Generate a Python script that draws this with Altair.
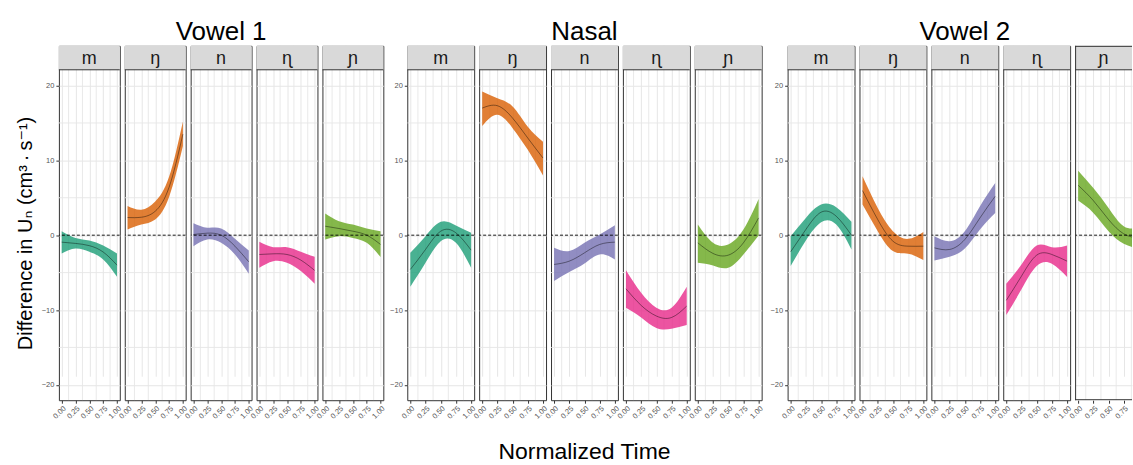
import altair as alt
import pandas as pd

FONT = "Liberation Sans, Arial, DejaVu Sans, sans-serif"

# ---------------- data ----------------
TIME = [0.0, 0.25, 0.5, 0.75, 1.0]
SEGMENTS = ["m", "ŋ", "n", "ɳ", "ɲ"]
COLORS = ["#1B9E77", "#D95F02", "#7570B3", "#E7298A", "#66A61E"]
GROUPS = ["Vowel 1", "Nasal", "Vowel 2"]

MAJOR_X = [0.0, 0.25, 0.5, 0.75, 1.0]
MINOR_X = [0.125, 0.375, 0.625, 0.875]
MAJOR_Y = [-20, -10, 0, 10, 20]
MINOR_Y = [-15, -5, 5, 15]

# Vowel 1 (order: m, ŋ, n, ɳ, ɲ)
vowel1_fit = [
    [-0.93, -1.10, -1.40, -2.25, -4.00],
    [2.36, 2.40, 3.20, 6.40, 13.50],
    [0.09, 0.27, 0.00, -1.47, -3.56],
    [-2.58, -2.49, -2.58, -3.33, -4.71],
    [1.20, 0.89, 0.53, 0.00, -1.24],
]
vowel1_lower = [
    [-2.44, -1.78, -2.22, -3.24, -5.56],
    [0.76, 1.42, 2.10, 5.10, 11.90],
    [-1.47, -0.58, -1.02, -2.58, -5.16],
    [-4.36, -3.47, -3.69, -4.80, -6.49],
    [-0.58, -0.13, -0.36, -1.02, -2.93],
]
vowel1_upper = [
    [0.53, -0.36, -0.71, -1.38, -2.44],
    [3.90, 3.40, 4.50, 7.80, 15.20],
    [1.60, 1.00, 0.90, -0.49, -2.04],
    [-0.89, -1.60, -1.60, -2.22, -2.89],
    [2.90, 1.87, 1.42, 0.89, 0.53],
]

# Nasal
nasal_fit = [
    [-4.58, -1.91, 0.53, 0.31, -2.00],
    [16.98, 17.30, 15.64, 12.98, 10.31],
    [-3.91, -3.47, -2.36, -1.24, -0.93],
    [-7.16, -9.38, -10.80, -11.00, -9.47],
    [-1.02, -2.44, -2.67, -1.02, 2.31],
]
nasal_lower = [
    [-6.89, -3.69, -0.80, -1.02, -4.36],
    [14.60, 16.10, 14.30, 11.40, 7.96],
    [-6.13, -4.93, -3.78, -2.58, -3.24],
    [-9.69, -11.00, -12.40, -12.50, -12.00],
    [-3.69, -4.04, -4.36, -2.58, -0.04],
]
nasal_upper = [
    [-2.36, -0.13, 1.78, 1.29, 0.31],
    [19.20, 18.30, 17.20, 14.50, 12.50],
    [-1.69, -2.13, -1.02, 0.09, 1.33],
    [-4.67, -7.69, -9.69, -9.69, -6.89],
    [1.42, -1.02, -1.24, 0.76, 4.84],
]

# Vowel 2
vowel2_fit = [
    [-2.22, 0.76, 3.07, 2.53, 0.00],
    [5.96, 2.09, -0.80, -1.47, -1.47],
    [-1.69, -1.91, -0.58, 2.31, 5.20],
    [-8.71, -5.47, -2.67, -2.58, -3.47],
    [6.67, 4.62, 2.09, 0.18, -0.40],
]
vowel2_lower = [
    [-4.13, -0.71, 1.73, 1.42, -1.91],
    [4.09, 0.53, -2.13, -2.49, -3.33],
    [-3.38, -2.89, -1.78, 0.76, 2.98],
    [-10.67, -7.24, -4.13, -3.82, -5.60],
    [4.62, 2.98, 0.53, -1.16, -1.80],
]
vowel2_upper = [
    [-0.13, 2.31, 4.09, 3.73, 1.78],
    [7.87, 3.64, 0.53, -0.49, 0.44],
    [-0.13, -0.80, 0.53, 3.87, 6.98],
    [-6.49, -3.91, -1.38, -1.60, -1.38],
    [8.62, 6.31, 3.64, 1.20, 1.00],
]

FITS = [vowel1_fit, nasal_fit, vowel2_fit]
LOWERS = [vowel1_lower, nasal_lower, vowel2_lower]
UPPERS = [vowel1_upper, nasal_upper, vowel2_upper]

Y_TITLE = "Difference in Uₙ (cm³\u2009·\u2009s⁻¹)"
X_TITLE = "Normalized Time"

# ---------------- layout ----------------
PLOT_H = 331
STRIP_H = 24
TOTAL_H = PLOT_H + STRIP_H
WIDTHS = [61, 67, 67]
SPACERS = [14, 16]
LAST_W = 57  # the right-most panel is cut at the image edge
Y_DOMAIN = [-22.05, 22.1]
BORDER = "#333333"
GRID = "#E6E6E6"


def make_panel(gi, si):
    last = (gi == 2 and si == 4)
    width = LAST_W if last else WIDTHS[gi]
    xmax = -0.05 + 1.1 * width / 67 if last else 1.05
    first = (si == 0)
    ytitle = Y_TITLE if (gi == 0 and si == 0) else None

    xs = alt.Scale(domain=[-0.05, xmax], nice=False, zero=False)
    ys = alt.Scale(domain=Y_DOMAIN, nice=False, zero=False, range=[TOTAL_H, STRIP_H])
    xvals = [v for v in MAJOR_X if v <= xmax]
    xaxis = alt.Axis(values=xvals, format=".2f", labelAngle=-45, labelFontSize=7.5,
                     labelColor="#555555", labelFont=FONT, tickColor=BORDER, tickSize=3,
                     labelPadding=1, labelOverlap=False, grid=True, gridColor=GRID,
                     gridWidth=1, domain=False)
    if first:
        yaxis = alt.Axis(values=MAJOR_Y, labelFontSize=7.5, labelColor="#555555", labelFont=FONT,
                         tickColor=BORDER, tickSize=3, labelPadding=2, labelOverlap=False,
                         grid=True, gridColor=GRID, gridWidth=1, domain=False,
                         titleFont=FONT, titleFontSize=20, titleFontWeight="normal",
                         titleColor="black", titlePadding=6, titleY=STRIP_H + PLOT_H / 2 - 2)
    else:
        yaxis = alt.Axis(values=MAJOR_Y, labels=False, ticks=False, domain=False, grid=True,
                         gridColor=GRID, gridWidth=1)

    def X(f):
        return alt.X(f, scale=xs, axis=xaxis, title=None)

    def Y(f):
        return alt.Y(f, scale=ys, axis=yaxis, title=ytitle)

    df = pd.DataFrame({"t": TIME, "fit": FITS[gi][si], "lo": LOWERS[gi][si], "hi": UPPERS[gi][si]})
    color = COLORS[si]

    minor_x = alt.Chart(pd.DataFrame({"mx": MINOR_X})).mark_rule(
        color=GRID, strokeWidth=0.9, clip=True).encode(x=X("mx:Q"))
    minor_y = alt.Chart(pd.DataFrame({"my": MINOR_Y})).mark_rule(
        color=GRID, strokeWidth=0.9, clip=True).encode(y=Y("my:Q"))
    band = alt.Chart(df).mark_area(interpolate="natural", color=color, opacity=0.8, clip=True).encode(
        x=X("t:Q"), y=Y("lo:Q"), y2="hi:Q")
    line = alt.Chart(df).mark_line(interpolate="natural", color="black", strokeWidth=0.6,
                                   opacity=0.7, clip=True).encode(x=X("t:Q"), y=Y("fit:Q"))
    zero = alt.Chart(pd.DataFrame({"z": [0]})).mark_rule(
        color="black", strokeDash=[3, 2], strokeWidth=0.9, clip=True).encode(y=Y("z:Q"))

    # facet strip drawn over the upper part of the view
    sdf = pd.DataFrame({"label": [SEGMENTS[si]]})
    srect = alt.Chart(sdf).mark_rect(color="#D9D9D9").encode(
        x=alt.value(0), x2=alt.value(width), y=alt.value(0), y2=alt.value(STRIP_H))
    bl = alt.Chart(sdf).mark_rule(color=BORDER, strokeWidth=1)
    sline = bl.encode(x=alt.value(0), x2=alt.value(width), y=alt.value(STRIP_H))
    stext = alt.Chart(sdf).mark_text(font=FONT, fontSize=18, color="#1A1A1A", baseline="middle").encode(
        x=alt.value(width / 2), y=alt.value(STRIP_H / 2 + 1), text="label:N")
    layers = [minor_x, minor_y, band, line, zero, srect, sline, stext]

    if si == 2:  # group title centred over the middle panel
        tdf = pd.DataFrame({"g": [GROUPS[gi]]})
        layers.append(alt.Chart(tdf).mark_text(
            font=FONT, fontSize=26, color="black", baseline="alphabetic", align="center").encode(
            x=alt.value(width / 2), y=alt.value(-5.7), text="g:N"))
    if gi == 1 and si == 2:  # common x title
        xdf = pd.DataFrame({"g": [X_TITLE]})
        layers.append(alt.Chart(xdf).mark_text(
            font=FONT, fontSize=23, color="black", baseline="alphabetic", align="center").encode(
            x=alt.value(width / 2), y=alt.value(TOTAL_H + 59), text="g:N"))

    if last:
        layers += [
            bl.encode(x=alt.value(0.5), y=alt.value(0), y2=alt.value(TOTAL_H)),
            bl.encode(x=alt.value(0), x2=alt.value(width), y=alt.value(0.5)),
            bl.encode(x=alt.value(0), x2=alt.value(width), y=alt.value(TOTAL_H - 0.5)),
        ]

    panel = alt.layer(*layers).properties(width=width, height=TOTAL_H)
    if last:
        panel = panel.properties(view=alt.ViewBackground(stroke="transparent"))
    return panel


def spacer(w):
    return alt.Chart(pd.DataFrame({"a": [0]})).mark_rule(opacity=0).encode(
        x=alt.value(0), y=alt.value(0), y2=alt.value(1)
    ).properties(width=w, height=TOTAL_H, view=alt.ViewBackground(stroke="transparent"))


items = []
for gi in range(3):
    if gi > 0:
        items.append(spacer(SPACERS[gi - 1]))
    items += [make_panel(gi, si) for si in range(5)]

chart = alt.hconcat(*items, spacing=5, bounds="flush").properties(
    padding={"left": 14, "top": 17.5, "right": 0, "bottom": 0},
    background="white",
).configure_view(stroke=BORDER, strokeWidth=1)

chart.save("out.html", embed_options={"renderer": "svg", "actions": False})
